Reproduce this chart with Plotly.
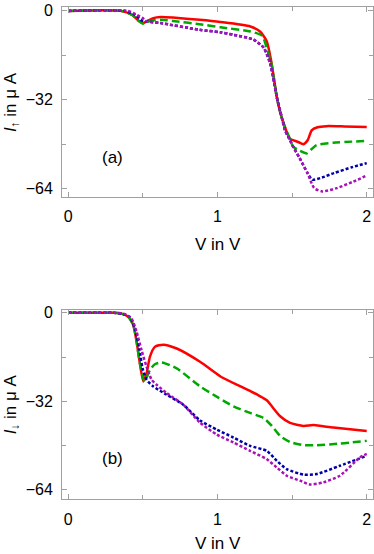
import plotly.graph_objects as go

# ---------------- data ----------------
# Panel (a): I_up
xa_red = [0, 0.35, 0.43, 0.47, 0.5, 0.53, 0.57, 0.62, 0.7, 0.88, 1.02, 1.22, 1.285, 1.33, 1.363, 1.397, 1.42, 1.453, 1.485, 1.54, 1.575, 1.605, 1.631, 1.67, 1.73, 1.85, 2.0]
ya_red = [0, 0, -1.5, -3.5, -4.4, -3.6, -2.6, -2.2, -2.4, -3.2, -4.0, -5.6, -7.4, -10.9, -19, -31, -36.5, -42, -46, -47.2, -48, -46.5, -43, -41.9, -41.5, -41.6, -41.8]

xa_green = [0, 0.35, 0.43, 0.47, 0.5, 0.53, 0.57, 0.62, 0.7, 0.88, 1.02, 1.22, 1.30, 1.33, 1.363, 1.397, 1.42, 1.453, 1.485, 1.507, 1.55, 1.6, 1.63, 1.663, 1.775, 2.0]
ya_green = [0, 0, -1.5, -3.6, -4.6, -4.0, -3.4, -3.2, -3.6, -4.8, -5.9, -7.4, -9, -13.3, -19.5, -31, -36.5, -42, -46, -48.9, -50.3, -51.3, -49.8, -48.3, -47.5, -46.8]

xa_blue = [0, 0.38, 0.45, 0.49, 0.53, 0.62, 0.88, 1.02, 1.106, 1.24, 1.31, 1.352, 1.38, 1.397, 1.42, 1.453, 1.485, 1.507, 1.55, 1.603, 1.636, 1.7, 1.78, 1.9, 2.0]
ya_blue = [0, 0, -1.5, -3.4, -3.8, -4.4, -6.8, -7.7, -8.6, -10.3, -13.3, -18.8, -26, -31, -36, -43, -46.5, -48.9, -53, -58.4, -60.8, -60, -58.4, -56.3, -54.8]

xa_mag = [0, 0.4, 0.45, 0.499, 0.525, 0.62, 0.88, 1.02, 1.106, 1.24, 1.31, 1.352, 1.38, 1.397, 1.42, 1.453, 1.485, 1.507, 1.55, 1.603, 1.648, 1.703, 1.8, 1.9, 2.0]
ya_mag = [0, 0, -1.2, -2.6, -3.8, -4.4, -6.8, -7.7, -8.6, -10.3, -13.3, -18.8, -26, -31, -36, -43, -46.5, -48.9, -53, -58.4, -63.8, -65, -63.8, -61.7, -59.3]

# Panel (b): I_down
xb_red = [0, 0.3, 0.35, 0.4, 0.436, 0.458, 0.48, 0.503, 0.525, 0.547, 0.58, 0.637, 0.727, 0.883, 1.02, 1.15, 1.22, 1.28, 1.33, 1.364, 1.42, 1.486, 1.576, 1.643, 1.777, 2.0]
yb_red = [0, 0, -0.2, -1.3, -4.5, -10.5, -18.3, -24.8, -21.8, -15.9, -12.3, -11.5, -12.9, -17.7, -23, -26.5, -28.3, -30, -31.6, -33.8, -37.4, -39.8, -40.9, -40.6, -41.5, -42.7]

xb_green = [0, 0.3, 0.35, 0.4, 0.436, 0.458, 0.48, 0.51, 0.53, 0.547, 0.58, 0.625, 0.727, 0.883, 1.0, 1.107, 1.218, 1.308, 1.364, 1.42, 1.486, 1.576, 1.643, 1.82, 2.0]
yb_green = [0, 0, -0.2, -1.3, -4.5, -10.5, -18.3, -24.8, -22.8, -20.7, -18.6, -17.9, -20.1, -26.6, -30.5, -33.8, -36.2, -38, -40.9, -44.5, -46.7, -47.8, -47.9, -47.3, -46.3]

xb_blue = [0, 0.3, 0.36, 0.413, 0.446, 0.476, 0.498, 0.525, 0.57, 0.659, 0.77, 0.883, 0.995, 1.107, 1.218, 1.33, 1.397, 1.464, 1.576, 1.665, 1.82, 2.0]
yb_blue = [0, 0, -0.3, -1.5, -5.7, -12.9, -20.1, -24.2, -26.6, -29.6, -33.2, -38.9, -42.2, -45.1, -48.1, -49.9, -53.5, -56.5, -58.5, -58.3, -55.3, -51.7]

xb_mag = [0, 0.3, 0.37, 0.424, 0.458, 0.491, 0.525, 0.559, 0.592, 0.659, 0.77, 0.883, 0.995, 1.107, 1.218, 1.33, 1.397, 1.464, 1.553, 1.62, 1.71, 1.82, 1.954, 2.0]
yb_mag = [0, 0, -0.3, -2.1, -6.9, -13.5, -19.5, -24.2, -26, -29, -33.2, -39.7, -44, -46.9, -49.9, -52.9, -55.9, -58.9, -60.7, -62.1, -61.3, -58.9, -52.3, -51]

x_tickvals = [0, 1, 2]
x_ticktext = ["0", "1", "2"]
x_minor = [0.5, 1.5]
y_tickvals = [0, -32, -64]
y_ticktext = ["0", "\u221232", "\u221264"]
y_minor = [-16, -48]

# ---------------- figure ----------------
W, H = 374, 554
FONT = "Liberation Sans, Arial, sans-serif"

styles = [
    dict(color="#ff0000", width=2.5, dash="solid"),
    dict(color="#00a800", width=2.5, dash="8px,4px"),
    dict(color="#0000aa", width=2.5, dash="3px,2px"),
    dict(color="#aa10b8", width=2.5, dash="3px,2px"),
]

fig = go.Figure()
panel_a = [(xa_red, ya_red), (xa_green, ya_green), (xa_blue, ya_blue), (xa_mag, ya_mag)]
panel_b = [(xb_red, yb_red), (xb_green, yb_green), (xb_blue, yb_blue), (xb_mag, yb_mag)]
for (xs, ys), st in zip(panel_a, styles):
    fig.add_trace(go.Scatter(x=xs, y=ys, mode="lines", line=dict(shape="spline", smoothing=0.6, **st),
                             xaxis="x", yaxis="y", showlegend=False, hoverinfo="skip"))
for (xs, ys), st in zip(panel_b, styles):
    fig.add_trace(go.Scatter(x=xs, y=ys, mode="lines", line=dict(shape="spline", smoothing=0.6, **st),
                             xaxis="x2", yaxis="y2", showlegend=False, hoverinfo="skip"))

xdom = [62 / W, 373 / W]
ydom_a = [1 - 194 / H, 1 - 2.3 / H]
ydom_b = [1 - 499 / H, 1 - 307.3 / H]

axis_common = dict(showline=True, linecolor="#a0a0a0", linewidth=1, mirror="ticks",
                   ticks="inside", ticklen=5, tickcolor="#a0a0a0", tickwidth=1,
                   showgrid=False, zeroline=False,
                   tickfont=dict(family=FONT, size=16, color="black"))

def minor(vals):
    return dict(tickvals=vals, ticks="inside", ticklen=4, tickcolor="#a0a0a0", tickwidth=1, showgrid=False)

fig.update_layout(
    width=W, height=H,
    margin=dict(l=0, r=0, t=0, b=0),
    paper_bgcolor="white", plot_bgcolor="white",
    xaxis=dict(domain=xdom, anchor="y", range=[-0.042, 2.042], tickvals=x_tickvals, ticktext=x_ticktext,
               minor=minor(x_minor), ticklabelstandoff=5, **axis_common),
    yaxis=dict(domain=ydom_a, anchor="x", range=[-67.1, 1.3], tickvals=y_tickvals, ticktext=y_ticktext,
               minor=minor(y_minor), ticklabelstandoff=5, **axis_common),
    xaxis2=dict(domain=xdom, anchor="y2", range=[-0.042, 2.042], tickvals=x_tickvals, ticktext=x_ticktext,
                minor=minor(x_minor), ticklabelstandoff=5, **axis_common),
    yaxis2=dict(domain=ydom_b, anchor="x2", range=[-67.5, 1.2], tickvals=y_tickvals, ticktext=y_ticktext,
                minor=minor(y_minor), ticklabelstandoff=5, **axis_common),
    showlegend=False,
)

title_font = dict(family=FONT, size=17, color="black")
fig.add_annotation(text="<i>I</i><sub>\u2191</sub> in \u03bc A", xref="paper", yref="paper",
                   x=0, y=1 - 98 / H, textangle=-90, showarrow=False, borderpad=0,
                   xanchor="left", yanchor="middle", font=title_font)
fig.add_annotation(text="<i>I</i><sub>\u2193</sub> in \u03bc A", xref="paper", yref="paper",
                   x=0, y=1 - 403 / H, textangle=-90, showarrow=False, borderpad=0,
                   xanchor="left", yanchor="middle", font=title_font)
fig.add_annotation(text="V in V", xref="paper", yref="paper", x=217.5 / W, y=1 - 241.5 / H,
                   showarrow=False, xanchor="center", yanchor="middle", font=title_font)
fig.add_annotation(text="V in V", xref="paper", yref="paper", x=217.5 / W, y=1 - 543 / H,
                   showarrow=False, xanchor="center", yanchor="middle", font=title_font)
fig.add_annotation(text="(a)", xref="x", yref="y", x=0.296, y=-52.7, showarrow=False,
                   font=dict(family=FONT, size=17, color="black"))
fig.add_annotation(text="(b)", xref="x2", yref="y2", x=0.296, y=-52.8, showarrow=False,
                   font=dict(family=FONT, size=17, color="black"))

fig.write_html("out.html", config={"displayModeBar": False},
               post_script="document.body.style.margin='0';document.body.style.overflow='hidden';")
